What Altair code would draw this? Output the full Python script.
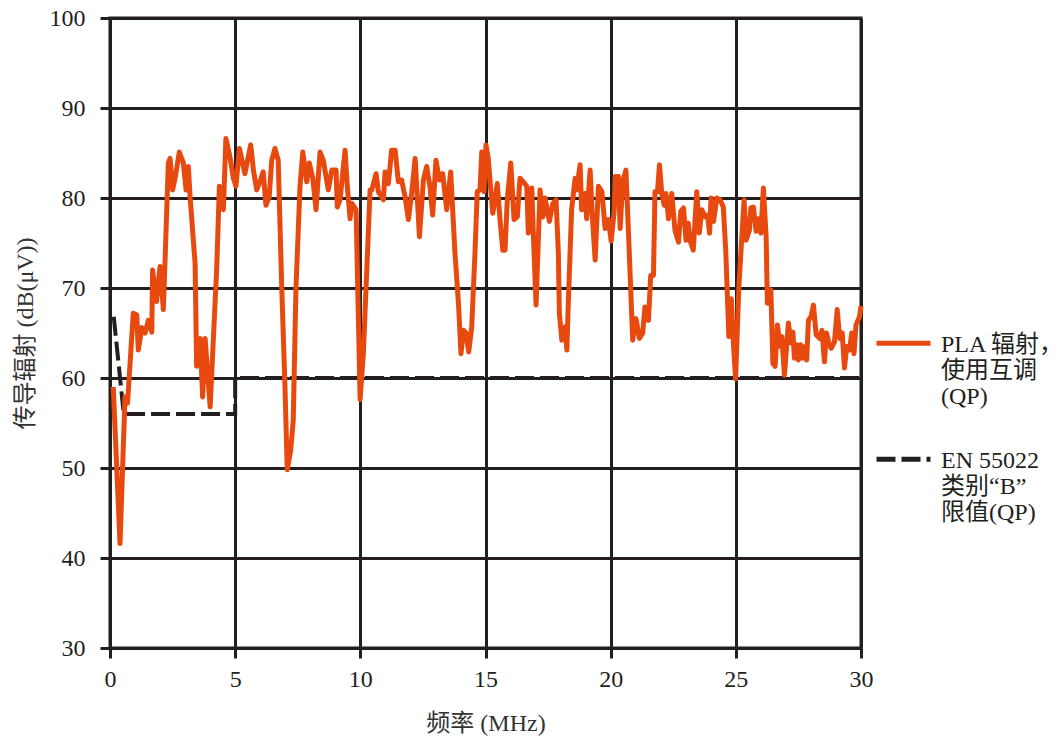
import altair as alt
import pandas as pd

# PLA conducted emission (QP) readings
freq_mhz = [0.13, 0.40, 0.60, 0.70, 0.93, 1.07, 1.13, 1.27, 1.40, 1.53, 1.67, 1.70, 1.86, 2.00, 2.13, 2.20,
            2.33, 2.40, 2.50, 2.60, 2.77, 2.93, 3.04, 3.13, 3.20, 3.40, 3.46, 3.60, 3.70, 3.80, 4.00, 4.26,
            4.37, 4.53, 4.63, 4.79, 4.93, 5.03, 5.17, 5.39, 5.62, 5.73, 5.86, 5.99, 6.12, 6.23, 6.36, 6.46,
            6.59, 6.72, 6.86, 6.99, 7.08, 7.22, 7.32, 7.43, 7.59, 7.70, 7.86, 7.96, 8.10, 8.23, 8.39, 8.52,
            8.72, 8.86, 9.03, 9.08, 9.19, 9.39, 9.48, 9.59, 9.66, 9.83, 9.99, 10.12, 10.39, 10.46, 10.63,
            10.72, 10.92, 10.99, 11.12, 11.25, 11.39, 11.52, 11.65, 11.79, 11.92, 12.05, 12.19, 12.36,
            12.52, 12.65, 12.78, 12.89, 13.02, 13.16, 13.29, 13.45, 13.61, 13.78, 13.92, 14.02, 14.12,
            14.22, 14.33, 14.45, 14.58, 14.67, 14.78, 14.85, 14.94, 15.02, 15.11, 15.21, 15.29, 15.38,
            15.47, 15.58, 15.69, 15.78, 15.87, 16.01, 16.14, 16.27, 16.38, 16.51, 16.65, 16.71, 16.85,
            16.91, 17.02, 17.18, 17.29, 17.38, 17.55, 17.69, 17.82, 17.91, 17.95, 18.05, 18.18, 18.25,
            18.31, 18.44, 18.58, 18.64, 18.78, 18.84, 18.98, 19.04, 19.18, 19.26, 19.38, 19.51, 19.65,
            19.78, 19.91, 20.02, 20.14, 20.18, 20.31, 20.38, 20.48, 20.61, 20.75, 20.88, 21.01, 21.15,
            21.28, 21.37, 21.51, 21.60, 21.71, 21.77, 21.87, 21.95, 22.04, 22.14, 22.21, 22.31, 22.44,
            22.57, 22.71, 22.80, 22.91, 23.01, 23.10, 23.17, 23.30, 23.44, 23.54, 23.64, 23.78, 23.87,
            23.95, 24.01, 24.11, 24.24, 24.37, 24.50, 24.60, 24.72, 24.82, 24.90, 24.99, 25.12, 25.24,
            25.33, 25.41, 25.54, 25.60, 25.70, 25.81, 25.90, 26.00, 26.10, 26.21, 26.26, 26.40, 26.48,
            26.57, 26.66, 26.77, 26.84, 26.94, 27.10, 27.20, 27.28, 27.34, 27.43, 27.50, 27.59, 27.67,
            27.77, 27.83, 27.90, 28.00, 28.10, 28.21, 28.35, 28.44, 28.54, 28.62, 28.72, 28.81, 28.94,
            29.05, 29.15, 29.25, 29.34, 29.43, 29.54, 29.63, 29.72, 29.80, 29.94, 30.00]
pla_dbuv = [59.0, 41.6, 57.9, 57.2, 67.2, 67.0, 63.1, 65.6, 65.0, 66.4, 65.1, 72.0, 68.5, 72.4, 67.6, 73.1,
            83.9, 84.4, 80.9, 82.2, 85.1, 83.9, 80.9, 83.5, 80.1, 72.7, 61.3, 64.4, 57.9, 64.4, 56.8, 72.0,
            81.3, 78.7, 86.6, 84.6, 82.2, 81.3, 85.5, 82.7, 85.9, 83.1, 80.9, 81.8, 82.9, 79.2, 80.1, 84.2,
            85.5, 84.2, 70.1, 59.0, 49.8, 52.0, 55.3, 70.1, 81.3, 85.1, 81.8, 83.9, 82.2, 78.7, 85.1, 84.2,
            80.9, 83.1, 83.1, 79.0, 79.8, 85.3, 81.3, 77.7, 79.4, 78.7, 57.6, 62.7, 80.9, 80.9, 82.7,
            80.7, 79.8, 82.9, 81.6, 85.3, 85.3, 81.8, 82.0, 80.1, 77.6, 80.5, 84.4, 75.7,
            82.0, 83.5, 81.3, 78.1, 84.2, 82.0, 82.7, 78.7, 82.9, 73.9, 68.3, 62.7, 65.3,
            65.0, 62.9, 65.7, 73.9, 80.7, 80.9, 85.1, 80.7, 85.9, 84.4, 80.9, 78.3, 79.8,
            81.6, 77.6, 74.2, 74.2, 79.8, 83.9, 77.6, 77.9, 82.2, 81.8, 81.3, 76.1, 81.1,
            76.1, 68.1, 80.9, 77.9, 80.0, 77.4, 79.4, 79.8, 73.9, 67.2, 64.2, 65.7, 63.1,
            68.5, 78.7, 82.2, 80.9, 83.7, 78.7, 80.5, 77.7, 83.1, 78.3, 73.1, 81.3, 80.7,
            76.6, 77.6, 75.2, 78.5, 82.4, 82.4, 76.6, 81.8, 83.1, 73.5, 64.2, 66.6, 64.4,
            65.0, 67.9, 66.4, 71.4, 71.4, 80.7, 80.7, 83.7, 80.5, 79.2, 80.5, 77.7, 80.5,
            76.4, 75.1, 78.5, 78.9, 75.3, 77.2, 75.3, 74.2, 80.7, 76.1, 78.7, 77.9, 78.1,
            76.1, 80.0, 77.4, 80.0, 79.8, 79.0, 74.0, 64.6, 68.8, 64.0, 59.9, 70.1, 75.7,
            79.8, 75.3, 76.4, 78.9, 79.0, 76.3, 77.7, 76.1, 81.1, 75.7, 68.3, 69.8, 61.6,
            61.3, 65.9, 63.5, 64.6, 60.3, 66.1, 63.9, 65.1, 62.2, 63.7, 62.0, 63.7, 62.2,
            63.5, 62.0, 66.4, 66.8, 68.1, 64.8, 64.4, 65.3, 61.8, 65.0, 63.9, 63.3, 64.0,
            67.6, 64.4, 65.0, 61.1, 63.5, 63.1, 65.0, 62.7, 65.9, 66.8, 68.0]

# EN 55022 Class B QP limit
limit_freq = [0.15, 0.55, 5.0, 5.0, 30.0]
limit_dbuv = [66.8, 56.0, 56.0, 60.0, 60.0]

series_names = ["PLA 辐射，\n使用互调\n(QP)", "EN 55022\n类别“B”\n限值(QP)"]
series_colors = ["#E8490F", "#231F20"]
x_ticks = [0, 5, 10, 15, 20, 25, 30]
y_ticks = [30, 40, 50, 60, 70, 80, 90, 100]

pla_df = pd.DataFrame({"f": freq_mhz, "v": pla_dbuv, "s": series_names[0],
                       "i": list(range(len(freq_mhz)))})
lim_df = pd.DataFrame({"f": limit_freq, "v": limit_dbuv, "s": series_names[1],
                       "i": list(range(len(limit_freq)))})

FONT = "Liberation Serif, Times New Roman, Noto Sans CJK SC"
DARK = "#231F20"


def make_legend():
    return alt.Legend(
        title=None, orient="none", legendX=764, legendY=285,
        symbolType="M-1,0.4H1", symbolSize=2916, symbolStrokeWidth=5,
        labelFont=FONT, labelFontSize=24, labelColor=DARK,
        labelBaseline="top", labelOffset=8, labelLimit=400,
        labelExpr="split(datum.label, '\\n')",
        rowPadding=10, padding=0)


x_enc = alt.X("f:Q", scale=alt.Scale(domain=[0, 30], nice=False, zero=False),
              axis=alt.Axis(values=x_ticks, title="频率 (MHz)", grid=True, labelFlush=False))
y_enc = alt.Y("v:Q", scale=alt.Scale(domain=[30, 100], nice=False, zero=False),
              axis=alt.Axis(values=y_ticks, title="传导辐射 (dB(μV))", grid=True, labelFlush=False))

color_enc = alt.Color("s:N", scale=alt.Scale(domain=series_names, range=series_colors),
                      legend=make_legend())
dash_enc = alt.StrokeDash("s:N", scale=alt.Scale(domain=series_names, range=[[1, 0], [19, 6]]),
                          legend=make_legend())

limit_layer = alt.Chart(lim_df).mark_line(strokeWidth=4, strokeCap="butt").encode(
    x=x_enc, y=y_enc, color=color_enc, strokeDash=dash_enc, order="i:Q")
pla_layer = alt.Chart(pla_df).mark_line(strokeWidth=5, strokeJoin="round").encode(
    x=x_enc, y=y_enc, color=color_enc, strokeDash=dash_enc, order="i:Q")

chart = alt.layer(limit_layer, pla_layer).properties(
    width=751, height=630,
    autosize=alt.AutoSizeParams(type="none"),
    padding={"left": 102, "top": 10, "right": 193, "bottom": 90},
).configure_view(stroke=DARK, strokeWidth=3).configure_axis(
    labelFont=FONT, labelFontSize=24, labelColor=DARK,
    titleFont=FONT, titleFontSize=24, titleColor="#333333", titleFontWeight="normal",
    gridColor=DARK, gridWidth=3, gridOpacity=1,
    domainColor=DARK, domainWidth=3,
    tickColor=DARK, tickWidth=3, tickSize=10,
).configure_axisX(labelPadding=9, titlePadding=20).configure_axisY(
    labelPadding=15, titlePadding=12)

chart.save("out.html", embed_options={"renderer": "svg", "actions": False})
